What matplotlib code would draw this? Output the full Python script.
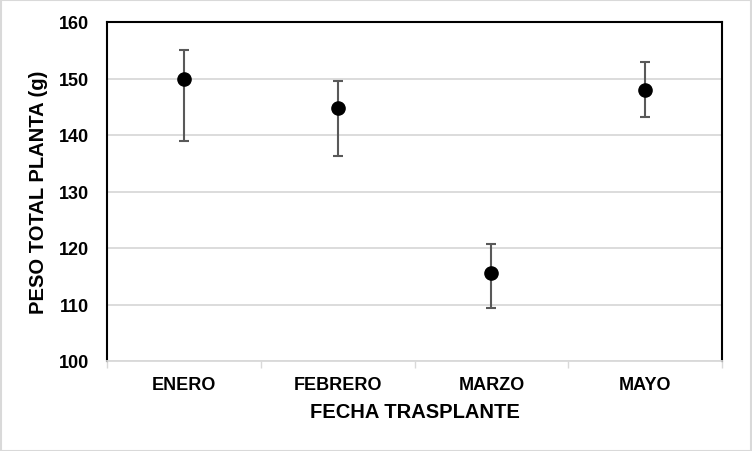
import matplotlib.pyplot as plt
import numpy as np

plt.rcParams['font.family'] = ['Liberation Sans', 'DejaVu Sans']
plt.rcParams['font.weight'] = 'bold'
plt.rcParams['axes.labelweight'] = 'bold'

# datos
meses = ['ENERO', 'FEBRERO', 'MARZO', 'MAYO']
peso = [150.0, 144.8, 115.6, 148.0]
err_sup = [155.0, 149.6, 120.7, 152.9]
err_inf = [138.9, 136.2, 109.3, 143.2]

x = np.arange(len(meses))
yerr = [np.array(peso) - np.array(err_inf), np.array(err_sup) - np.array(peso)]

fig = plt.figure(figsize=(7.52, 4.52), dpi=100)
ax = fig.add_axes([107/752, 1 - 362/452, 615/752, 339/452])

ax.errorbar(x, peso, yerr=yerr, fmt='o', color='black', markersize=9.5,
            ecolor='#595959', elinewidth=1.5, capsize=3.5, capthick=1.5, zorder=3)

ax.set_xlim(-0.5, 3.5)
ax.set_ylim(100, 160)
ax.set_yticks(np.arange(100, 161, 10))
ax.set_xticks(x)
ax.set_xticklabels(meses, fontsize=13, fontweight='bold')
ax.set_xticks(np.arange(-0.5, 3.6, 1), minor=True)
ax.tick_params(axis='x', which='major', length=0, pad=11)
ax.tick_params(axis='x', which='minor', length=5, color='#d9d9d9', width=1)
ax.tick_params(axis='y', length=0, pad=13, labelsize=13)

ax.grid(axis='y', color='#d9d9d9', linewidth=1.3, zorder=0)
ax.set_axisbelow(True)

for s in ['top', 'left', 'right']:
    ax.spines[s].set_color('black')
    ax.spines[s].set_linewidth(1.5)
ax.spines['bottom'].set_color('#d9d9d9')
ax.spines['bottom'].set_linewidth(1.3)

ax.set_xlabel('FECHA TRASPLANTE', fontsize=14.5, fontweight='bold', labelpad=6)
ax.set_ylabel('PESO TOTAL PLANTA (g)', fontsize=14.5, fontweight='bold', labelpad=8)

fig.patches.append(plt.Rectangle((0.001, 0.001), 0.998, 0.997, transform=fig.transFigure,
                                 fill=False, edgecolor='#d9d9d9', linewidth=1.5))

fig.savefig('out.png', dpi=100)
